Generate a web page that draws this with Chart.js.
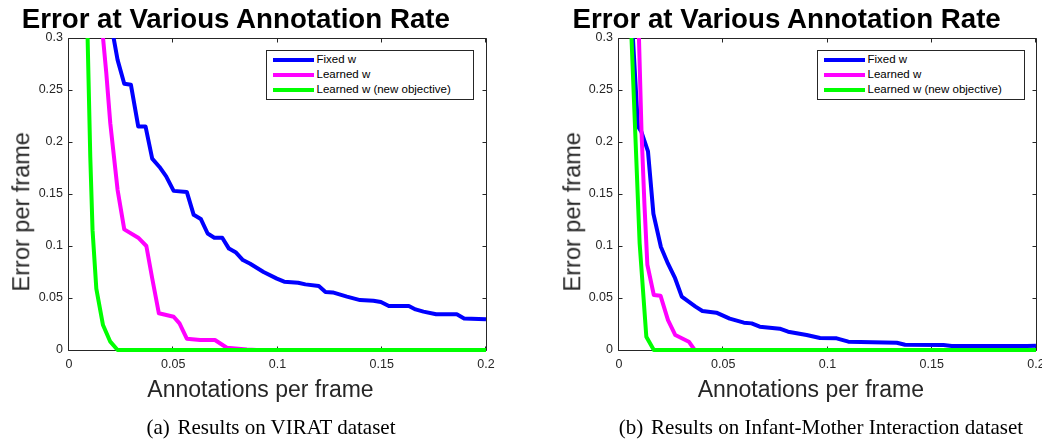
<!DOCTYPE html>
<html>
<head>
<meta charset="utf-8">
<script src="https://cdn.jsdelivr.net/npm/chart.js@4.4.1/dist/chart.umd.min.js"></script>
<style>
  html, body { margin:0; padding:0; background:#fff; }
  body { width:1042px; height:440px; overflow:hidden; position:relative; }
  canvas { position:absolute; top:0; }
  .txt { position:absolute; white-space:nowrap; text-align:center; line-height:1; }
  .title { font: bold 27.7px "Liberation Sans", Arial, sans-serif; color:#000; width:600px; }
  .xlab { font: 23px "Liberation Sans", Arial, sans-serif; color:#262626; width:400px; }
  .ylab { font: 23.5px "Liberation Sans", Arial, sans-serif; color:#262626; width:300px; height:23.5px; transform: rotate(-90deg); }
  .cap { font: 21px "Liberation Serif", "Times New Roman", serif; color:#000; width:600px; }
  .legend { position:absolute; box-sizing:border-box; border:1px solid #262626; background:#fff; width:208px; height:50px; }
  .lrow { position:absolute; left:0; height:15px; line-height:15px; font: 11.5px "Liberation Sans", Arial, sans-serif; color:#000; white-space:nowrap; }
  .lrow i { position:absolute; left:6px; top:5.5px; width:41px; height:4px; }
  .lrow span { position:absolute; left:50px; top:0.7px; }
</style>
</head>
<body>
<canvas id="c1" width="520" height="440" style="left:0px"></canvas>
<canvas id="c2" width="540" height="440" style="left:520px"></canvas>

<div class="txt title" style="left:-64.2px; top:2.5px;">Error at Various Annotation Rate</div>
<div class="txt title" style="left:486.7px; top:2.5px;">Error at Various Annotation Rate</div>

<div class="txt xlab" style="left:60.5px; top:375.5px;">Annotations per frame</div>
<div class="txt xlab" style="left:610.8px; top:375.5px;">Annotations per frame</div>

<div class="txt ylab" style="left:-129.6px; top:200px;">Error per frame</div>
<div class="txt ylab" style="left:421px; top:200px;">Error per frame</div>

<div class="txt cap" style="left:-29px; top:415px;"><span style="margin-right:2.5px">(a)</span> Results on VIRAT dataset</div>
<div class="txt cap" style="left:521px; top:415px;"><span style="margin-right:2.5px">(b)</span> Results on Infant-Mother Interaction dataset</div>

<div class="legend" id="leg1" style="left:265.5px; top:49.5px;"></div>
<div class="legend" id="leg2" style="left:816.5px; top:49.5px;"></div>

<script>
// ---------- tick values / labels ----------
const X_TICK_VALUES = [0, 0.05, 0.1, 0.15, 0.2];
const X_TICK_LABELS = ['0', '0.05', '0.1', '0.15', '0.2'];
const Y_TICK_VALUES = [0, 0.05, 0.1, 0.15, 0.2, 0.25, 0.3];
const Y_TICK_LABELS = ['0', '0.05', '0.1', '0.15', '0.2', '0.25', '0.3'];
const SERIES_NAMES = ['Fixed w', 'Learned w', 'Learned w (new objective)'];

// ---------- (a) VIRAT ----------
const viratFixedX = [0.0196, 0.0233, 0.0265, 0.0297, 0.0332, 0.0367, 0.0399, 0.0434, 0.0466, 0.0502, 0.0565, 0.0598, 0.0632, 0.0665, 0.0697, 0.0735, 0.0767, 0.0799, 0.0834, 0.0869, 0.0933, 0.0997, 0.1032, 0.1099, 0.1134, 0.1198, 0.1230, 0.1265, 0.1333, 0.1396, 0.1460, 0.1496, 0.1534, 0.1630, 0.1662, 0.1700, 0.1761, 0.1860, 0.1895, 0.2000];
const viratFixedY = [0.320, 0.279, 0.256, 0.255, 0.215, 0.215, 0.184, 0.176, 0.167, 0.153, 0.152, 0.130, 0.126, 0.112, 0.108, 0.108, 0.0975, 0.094, 0.0865, 0.083, 0.075, 0.0686, 0.0657, 0.0647, 0.0631, 0.0615, 0.0558, 0.0554, 0.0513, 0.048, 0.0474, 0.0462, 0.0423, 0.0423, 0.039, 0.0369, 0.0343, 0.0343, 0.0304, 0.0295];

const viratLearnedX = [0.0154, 0.0179, 0.0198, 0.0233, 0.0265, 0.0332, 0.0371, 0.0399, 0.0431, 0.0502, 0.0530, 0.0565, 0.0629, 0.0700, 0.0757, 0.0853, 0.0900, 0.2000];
const viratLearnedY = [0.320, 0.266, 0.218, 0.154, 0.116, 0.108, 0.100, 0.069, 0.0353, 0.032, 0.0256, 0.0109, 0.0096, 0.0096, 0.0022, 0.0005, 0, 0];

const viratNewObjX = [0.0087, 0.0102, 0.0113, 0.0131, 0.0163, 0.0198, 0.0233, 0.2000];
const viratNewObjY = [0.320, 0.186, 0.115, 0.059, 0.024, 0.008, 0, 0];

// ---------- (b) Infant-Mother Interaction ----------
const infantFixedX = [0.0061, 0.0091, 0.0107, 0.0139, 0.0165, 0.0201, 0.0235, 0.0269, 0.0301, 0.0367, 0.0400, 0.0467, 0.0531, 0.0599, 0.0636, 0.0675, 0.0771, 0.0811, 0.0900, 0.0964, 0.1044, 0.1100, 0.1332, 0.1372, 0.1556, 0.1596, 0.1956, 0.2000];
const infantFixedY = [0.320, 0.215, 0.210, 0.191, 0.131, 0.099, 0.083, 0.069, 0.0513, 0.0417, 0.0375, 0.0359, 0.0301, 0.0263, 0.0256, 0.0224, 0.0205, 0.0176, 0.0144, 0.0115, 0.0112, 0.008, 0.007, 0.0051, 0.0048, 0.0038, 0.0038, 0.0042];

const infantLearnedX = [0.0093, 0.0108, 0.0122, 0.0136, 0.0167, 0.0199, 0.0235, 0.0270, 0.0335, 0.0363, 0.2000];
const infantLearnedY = [0.320, 0.210, 0.140, 0.082, 0.0529, 0.0522, 0.0288, 0.0144, 0.008, 0, 0];

const infantNewObjX = [0.0056, 0.0099, 0.0131, 0.0167, 0.2000];
const infantNewObjY = [0.320, 0.1026, 0.0128, 0, 0];

// ---------- styling ----------
const COLORS = ['#0000ff', '#ff00ff', '#00ff00'];
const AXIS_COLOR = '#262626';
const TICK_FONT = { family: '"Liberation Sans", Arial, sans-serif', size: 12.5 };

function pts(xs, ys) { return xs.map((x, i) => ({ x: x, y: ys[i] })); }

const boxPlugin = {
  id: 'matlabBox',
  beforeDatasetsDraw(chart) {
    const { ctx, chartArea: a, scales } = chart;
    const sx = scales.x, sy = scales.y;
    const L = a.left - 0.5, R = a.right + 0.5, T = a.top + 0.5, B = a.bottom + 0.5;
    ctx.save();
    ctx.strokeStyle = AXIS_COLOR;
    ctx.lineWidth = 1;
    ctx.beginPath();
    ctx.rect(L, T, R - L, B - T);
    X_TICK_VALUES.forEach(v => {
      const px = Math.round(sx.getPixelForValue(v)) - 0.5;
      ctx.moveTo(px, B); ctx.lineTo(px, B - 4);
      ctx.moveTo(px, T); ctx.lineTo(px, T + 4);
    });
    Y_TICK_VALUES.forEach(v => {
      const py = Math.round(sy.getPixelForValue(v)) + 0.5;
      ctx.moveTo(L, py); ctx.lineTo(L + 4, py);
      ctx.moveTo(R, py); ctx.lineTo(R - 4, py);
    });
    ctx.stroke();
    ctx.restore();
  }
};

function makeChart(id, series, yAxisWidth, rightPad) {
  const datasets = series.map((s, i) => ({
    label: SERIES_NAMES[i],
    data: pts(s[0], s[1]),
    borderColor: COLORS[i],
    backgroundColor: COLORS[i],
    borderWidth: 4,
    pointRadius: 0,
    tension: 0,
    fill: false,
    borderJoinStyle: 'round',
    borderCapStyle: 'butt',
    order: 3 - i,
    clip: { left: 0, top: 0, right: 2, bottom: 3 }
  }));
  return new Chart(document.getElementById(id), {
    type: 'line',
    data: { datasets },
    plugins: [boxPlugin],
    options: {
      responsive: false,
      devicePixelRatio: 1,
      animation: false,
      events: [],
      layout: { padding: { top: 38, right: rightPad, bottom: 0, left: 0 } },
      plugins: { legend: { display: false }, tooltip: { enabled: false }, title: { display: false } },
      scales: {
        x: {
          type: 'linear', min: 0, max: 0.2,
          afterBuildTicks: s => { s.ticks = X_TICK_VALUES.map(v => ({ value: v })); },
          afterFit: s => { s.height = 90; },
          ticks: {
            callback: v => X_TICK_LABELS[X_TICK_VALUES.indexOf(v)],
            font: TICK_FONT, color: AXIS_COLOR, padding: 7, maxRotation: 0, autoSkip: false
          },
          grid: { display: false, drawTicks: false },
          border: { display: false }
        },
        y: {
          type: 'linear', min: 0, max: 0.3,
          afterBuildTicks: s => { s.ticks = Y_TICK_VALUES.map(v => ({ value: v })); },
          afterFit: s => { s.width = yAxisWidth; },
          ticks: {
            callback: v => Y_TICK_LABELS[Y_TICK_VALUES.indexOf(v)],
            font: TICK_FONT, color: AXIS_COLOR, padding: 6, autoSkip: false
          },
          grid: { display: false, drawTicks: false },
          border: { display: false }
        }
      }
    }
  });
}

function makeLegend(id) {
  const box = document.getElementById(id);
  SERIES_NAMES.forEach((name, i) => {
    const row = document.createElement('div');
    row.className = 'lrow';
    row.style.top = (2.3 + 15 * i) + 'px';
    const sw = document.createElement('i');
    sw.style.background = COLORS[i];
    const t = document.createElement('span');
    t.textContent = name;
    row.appendChild(sw); row.appendChild(t);
    box.appendChild(row);
  });
}

makeChart('c1', [[viratFixedX, viratFixedY], [viratLearnedX, viratLearnedY], [viratNewObjX, viratNewObjY]], 69, 34);
makeChart('c2', [[infantFixedX, infantFixedY], [infantLearnedX, infantLearnedY], [infantNewObjX, infantNewObjY]], 99, 24);
makeLegend('leg1');
makeLegend('leg2');
</script>
</body>
</html>
